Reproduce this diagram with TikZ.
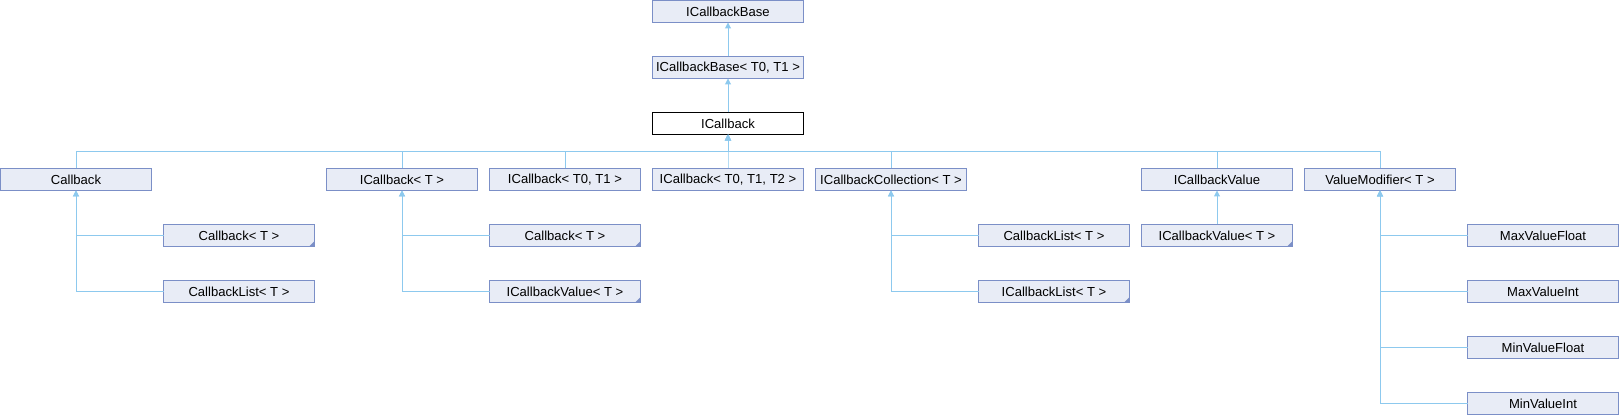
\documentclass[tikz,border=0pt]{standalone}
\usepackage{fontspec}
\setmainfont{Liberation Sans}
\usetikzlibrary{arrows.meta}

\definecolor{boxfill}{HTML}{E8ECF6}
\definecolor{boxline}{HTML}{7B8FC7}
\definecolor{edgeline}{HTML}{8DC9EE}

\tikzset{
cls/.style = {draw=boxline, fill=boxfill, line width=.75pt, minimum width=113.25pt, minimum height=16.5pt,
	inner sep=0pt, outer sep=0pt, anchor=north west, font=\fontsize{9.8}{11}\selectfont},
curcls/.style = {cls, draw=black, fill=white},
inh/.style = {draw=edgeline, line width=.75pt, -{Triangle[width=4.5pt,length=4.5pt]}},
fold/.style = {fill=boxline}
}

\begin{document}
\begin{tikzpicture}[x=0.75pt,y=-0.75pt]
\useasboundingbox (0,0) rectangle (1620,416);

% top of the tree
\node[cls] (base) at (652.5,0.5) {ICallbackBase};
\node[cls] (baseTT) at (652.5,56.5) {ICallbackBase< T0, T1 >};
\node[curcls] (icb) at (652.5,112.5) {ICallback};

% direct children
\node[cls] (callback) at (0.5,168.5) {Callback};
\node[cls] (icbT) at (326.5,168.5) {ICallback< T >};
\node[cls] (icbTT) at (489.5,168.5) {ICallback< T0, T1 >};
\node[cls] (icbTTT) at (652.5,168.5) {ICallback< T0, T1, T2 >};
\node[cls] (icbColl) at (815.5,168.5) {ICallbackCollection< T >};
\node[cls] (icbValue) at (1141.5,168.5) {ICallbackValue};
\node[cls] (valMod) at (1304.5,168.5) {ValueModifier< T >};

% grandchildren
\node[cls] (cbT1) at (163.5,224.5) {Callback< T >};
\node[cls] (cbList1) at (163.5,280.5) {CallbackList< T >};
\node[cls] (cbT2) at (489.5,224.5) {Callback< T >};
\node[cls] (icbValT1) at (489.5,280.5) {ICallbackValue< T >};
\node[cls] (cbList2) at (978.5,224.5) {CallbackList< T >};
\node[cls] (icbList) at (978.5,280.5) {ICallbackList< T >};
\node[cls] (icbValT2) at (1141.5,224.5) {ICallbackValue< T >};
\foreach \n/\r/\t in {maxFloat/224.5/MaxValueFloat,maxInt/280.5/MaxValueInt,minFloat/336.5/MinValueFloat,minInt/392.5/MinValueInt}
{
	\node[cls] (\n) at (1467.5,\r) {\t};
	\draw[inh] (\n.west) -| (valMod.south);
}

% templates
\foreach \n in {cbT1,cbT2,icbValT1,icbList,icbValT2}
	\fill[fold] (\n.south east) -- ++(-4pt,0) -- ++(4pt,4pt) -- cycle;

\draw[inh] (baseTT.north) -- (base.south);
\draw[inh] (icb.north) -- (baseTT.south);

% bus under ICallback
\coordinate (bus) at (728,152);
\foreach \n in {callback,icbT,icbTT,icbTTT,icbColl,icbValue,valMod}
	\draw[inh] (\n.north) |- (bus) -- (icb.south);

\draw[inh] (cbT1.west) -| (callback.south);
\draw[inh] (cbList1.west) -| (callback.south);
\draw[inh] (cbT2.west) -| (icbT.south);
\draw[inh] (icbValT1.west) -| (icbT.south);
\draw[inh] (cbList2.west) -| (icbColl.south);
\draw[inh] (icbList.west) -| (icbColl.south);
\draw[inh] (icbValT2.north) -- (icbValue.south);
\end{tikzpicture}
\end{document}
